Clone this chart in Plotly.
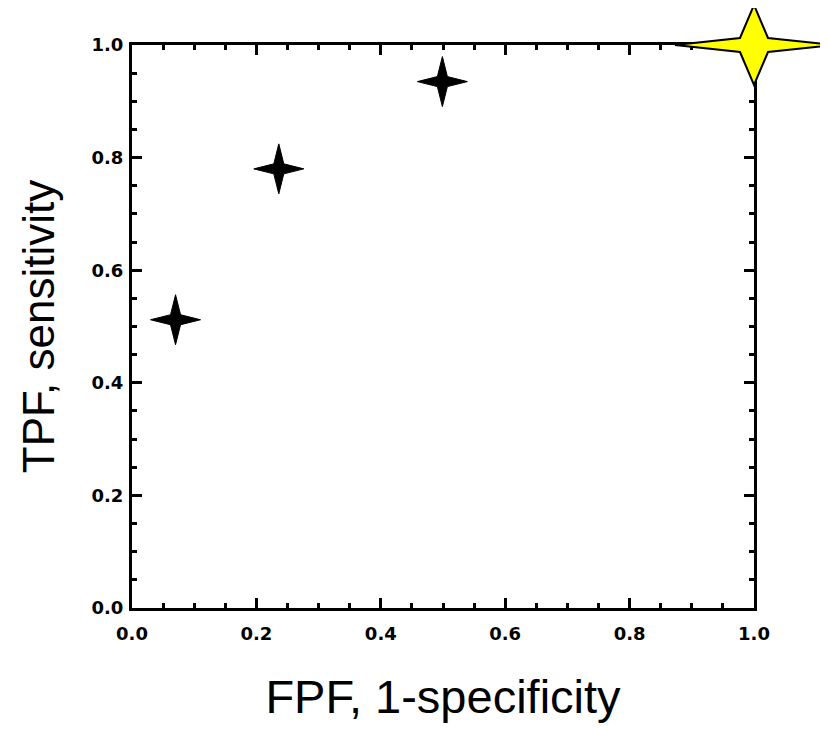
import plotly.graph_objects as go

# ---- data ----
fpf = [0.07, 0.236, 0.499, 1.0]          # FPF, 1-specificity
tpf = [0.512, 0.780, 0.935, 1.0]         # TPF, sensitivity
point_fill = ["black", "black", "black", "#FFFF00"]
tick_vals = [0.0, 0.2, 0.4, 0.6, 0.8, 1.0]
x_title = "FPF, 1-specificity"
y_title = "TPF, sensitivity"

X_RANGE = [0.0, 1.0]
Y_RANGE = [0.0, 1.0]

# page body has an 8px default margin, so the figure is offset by 8px
W, H = 820, 721
ML, MR, MT, MB = 124, 74, 37, 121


def star_path(rx, ry, ix, iy):
    # four-pointed star in pixel units around its anchor
    return (f"M{-rx},0 L{-ix},{iy} L0,{ry} L{ix},{iy} L{rx},0 "
            f"L{ix},{-iy} L0,{-ry} L{-ix},{-iy} Z")


fig = go.Figure()

# data trace (small markers under the star glyphs)
fig.add_trace(go.Scatter(
    x=fpf, y=tpf, mode="markers", cliponaxis=False,
    marker=dict(symbol="star-diamond", size=8, color=point_fill,
                line=dict(width=0)),
    hoverinfo="x+y", showlegend=False,
))

shapes = []
for i, (xv, yv) in enumerate(zip(fpf, tpf)):
    fx = (xv - X_RANGE[0]) / (X_RANGE[1] - X_RANGE[0])
    fy = (yv - Y_RANGE[0]) / (Y_RANGE[1] - Y_RANGE[0])
    if point_fill[i] == "black":
        path = star_path(25, 25, 5, 5)
        line = dict(color="black", width=1)
    else:
        path = star_path(79, 40, 14, 7)
        line = dict(color="black", width=2)
    shapes.append(dict(
        type="path", xref="x domain", yref="y domain",
        xsizemode="pixel", ysizemode="pixel",
        xanchor=fx, yanchor=fy, path=path,
        fillcolor=point_fill[i], line=line, layer="above",
    ))

tickfont = dict(family="DejaVu Sans", size=18, color="black", weight="bold")

axis_common = dict(
    showline=True, linecolor="black", linewidth=3, mirror="allticks",
    ticks="inside", ticklen=10, tickwidth=2.5, tickcolor="black",
    showgrid=False, zeroline=False, tickvals=tick_vals, tickformat=".1f",
    tickfont=tickfont,
    minor=dict(dtick=0.05, ticks="inside", ticklen=5, tickwidth=2.5,
               tickcolor="black", showgrid=False),
)

fig.update_layout(
    width=W, height=H,
    margin=dict(l=ML, r=MR, t=MT, b=MB, autoexpand=False),
    paper_bgcolor="white", plot_bgcolor="white",
    shapes=shapes,
    xaxis=dict(range=X_RANGE, ticklabelstandoff=7,
               title=dict(text=x_title, standoff=38,
                          font=dict(family="Liberation Sans", size=47, color="black")),
               **axis_common),
    yaxis=dict(range=Y_RANGE, ticklabelstandoff=2,
               title=dict(text=y_title, standoff=24,
                          font=dict(family="Liberation Sans", size=44, color="black")),
               **axis_common),
)

fig.write_html("out.html")
